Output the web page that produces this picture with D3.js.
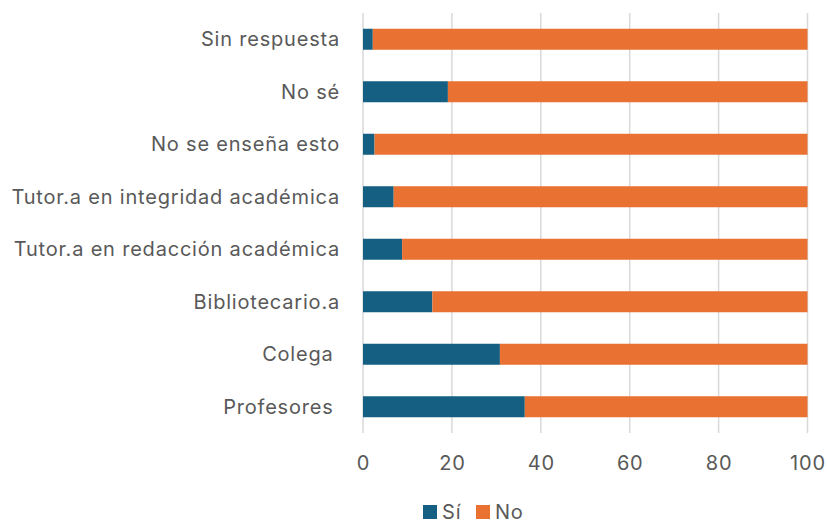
<!DOCTYPE html>
<html>
<head>
<meta charset="utf-8">
<script src="https://cdn.jsdelivr.net/npm/d3@7"></script>
<style>
  body { margin: 0; background: #fff; }
  svg { display: block; font-family: Inter, "Open Sans", sans-serif; }
  text { white-space: pre; }
</style>
</head>
<body>
<div id="chart"></div>
<script>
// categories from top to bottom
const categories = ['Sin respuesta', 'No sé', 'No se enseña esto', 'Tutor.a en integridad académica',
  'Tutor.a en redacción académica', 'Bibliotecario.a', 'Colega ', 'Profesores '];
const siValues = [2.2, 19.1, 2.6, 6.9, 8.8, 15.6, 30.8, 36.4];
const noValues = siValues.map(function (v) { return 100 - v; });
const seriesNames = ['Sí', 'No'];
const seriesColors = ['#156082', '#E97132'];
const xTicks = [0, 20, 40, 60, 80, 100];

const width = 827, height = 525;
const margin = { top: 13, right: 20, bottom: 92, left: 363 };
const fontSize = '20px';
const spacing = '0.8px';
const textColor = '#595959';

const svg = d3.select('#chart').append('svg')
  .attr('width', width)
  .attr('height', height);

const x = d3.scaleLinear().domain([0, 100]).range([margin.left, 807.5]);
const y = d3.scaleBand().domain(categories)
  .range([margin.top, height - margin.bottom])
  .paddingInner(0.6)
  .paddingOuter(0.3);

// grid lines
svg.append('g').attr('class', 'grid')
  .selectAll('line').data(xTicks).enter()
  .append('line')
  .attr('x1', function (d) { return x(d); })
  .attr('x2', function (d) { return x(d); })
  .attr('y1', margin.top)
  .attr('y2', height - margin.bottom)
  .style('stroke', '#d9d9d9')
  .style('stroke-width', 1.5);

// stacked data
const rows = categories.map(function (c, i) {
  return { cat: c, 'Sí': siValues[i], 'No': noValues[i] };
});
const stacked = d3.stack().keys(seriesNames)(rows);

svg.append('g').attr('class', 'bars')
  .selectAll('g').data(stacked).enter()
  .append('g')
  .attr('fill', function (d, i) { return seriesColors[i]; })
  .selectAll('rect').data(function (d) { return d; }).enter()
  .append('rect')
  .attr('x', function (d) { return x(d[0]); })
  .attr('width', function (d) { return x(d[1]) - x(d[0]); })
  .attr('y', function (d) { return y(d.data.cat); })
  .attr('height', y.bandwidth());

// category labels
svg.append('g').attr('class', 'ylabels')
  .selectAll('text').data(categories).enter()
  .append('text')
  .attr('x', 340)
  .attr('y', function (d) { return y(d) + y.bandwidth() / 2; })
  .attr('dy', '0.35em')
  .attr('text-anchor', 'end')
  .style('font-size', fontSize)
  .style('letter-spacing', spacing)
  .style('fill', textColor)
  .text(function (d) { return d; });

// x axis tick labels
const xAxis = d3.axisBottom(x).tickValues(xTicks).tickSize(0).tickPadding(0);
const gx = svg.append('g')
  .attr('transform', 'translate(0,' + 456 + ')')
  .call(xAxis);
gx.select('.domain').remove();
gx.selectAll('text')
  .attr('dy', '0.71em')
  .style('font-family', 'Inter, "Open Sans", sans-serif')
  .style('font-size', fontSize)
  .style('letter-spacing', spacing)
  .style('fill', textColor);

// legend
const legend = svg.append('g').attr('class', 'legend');
const legendX = [423, 476];
seriesNames.forEach(function (name, i) {
  const g = legend.append('g').attr('transform', 'translate(' + legendX[i] + ',505)');
  g.append('rect').attr('width', 14).attr('height', 14).attr('fill', seriesColors[i]);
  g.append('text')
    .attr('x', 19)
    .attr('y', 7)
    .attr('dy', '0.35em')
    .style('font-size', fontSize)
    .style('letter-spacing', spacing)
    .style('fill', textColor)
    .text(name);
});
</script>
</body>
</html>
